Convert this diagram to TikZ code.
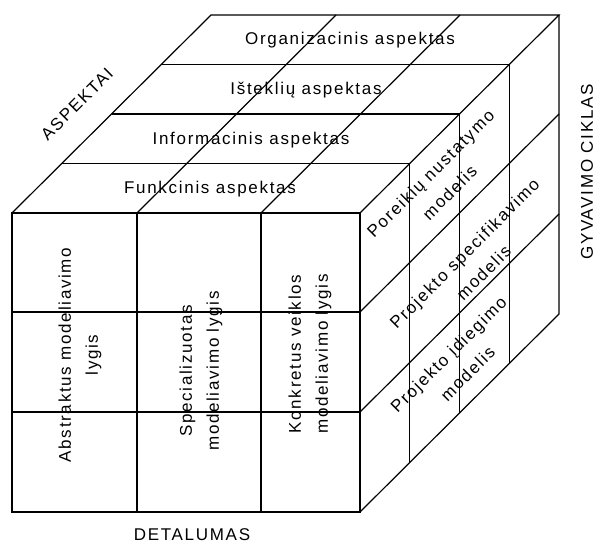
\documentclass[tikz,border=0pt]{standalone}
\usepackage{fontspec}
\setmainfont{Liberation Sans}[LetterSpace=10]
\begin{document}
\begin{tikzpicture}[x=1pt,y=-1pt,line width=1.2pt,line join=miter,
  lab/.style={font=\fontsize{17}{27}\selectfont,align=center,inner sep=0pt}]
\useasboundingbox (0,0) rectangle (601,543);
% corners
\coordinate (FTL) at (12,213);
\coordinate (FTR) at (360,213);
\coordinate (FBR) at (360,512);
\coordinate (FBL) at (12,512);
\coordinate (BTL) at (211,15);
\coordinate (BTR) at (559,15);
\coordinate (BBR) at (559,314);
% front face
\draw (FTL) rectangle (FBR);
\foreach \x in {137,261} \draw (\x,213) -- (\x,512);
\foreach \y in {312,412} \draw (12,\y) -- (360,\y);
% top face
\draw (FTL) -- (BTL) -- (BTR) -- (FTR);
\foreach \k in {1,2,3}
  \draw ({12+49.75*\k},{213-49.5*\k}) -- ++(348,0) -- ++(0,299);
\foreach \x in {137,261} \draw (\x,213) -- ++(199,-198);
% right face
\draw (BTR) -- (BBR) -- (FBR);
\foreach \y in {312,412} \draw (360,\y) -- ++(199,-198);
% texts
\node[lab] (org) at (350,40) {Organizacinis aspektas};
\node[lab] (ist) at (306,90) {Išteklių aspektas};
\node[lab] (inf) at (251,140) {Informacinis aspektas};
\node[lab] (fun) at (210,189) {Funkcinis aspektas};
\node[lab,rotate=90] (abs) at (80,355) {Abstraktus modeliavimo\\lygis};
\node[lab,rotate=90] (spe) at (201,371) {Specializuotas\\modeliavimo lygis};
\node[lab,rotate=90] (kon) at (310,354) {Konkretus veiklos\\modeliavimo lygis};
\node[lab,rotate=45] (por) at (440,183) {Poreikių nustatymo\\modelis};
\node[lab,rotate=45] (psp) at (474,263) {Projekto specifikavimo\\modelis};
\node[lab,rotate=45] (pid) at (458,364) {Projekto įdiegimo\\modelis};
\node[lab,rotate=45] (asp) at (77,104) {ASPEKTAI};
\node[lab,rotate=90] (gyv) at (587,172) {GYVAVIMO CIKLAS};
\node[lab] (det) at (192,535) {DETALUMAS};
\end{tikzpicture}
\end{document}
